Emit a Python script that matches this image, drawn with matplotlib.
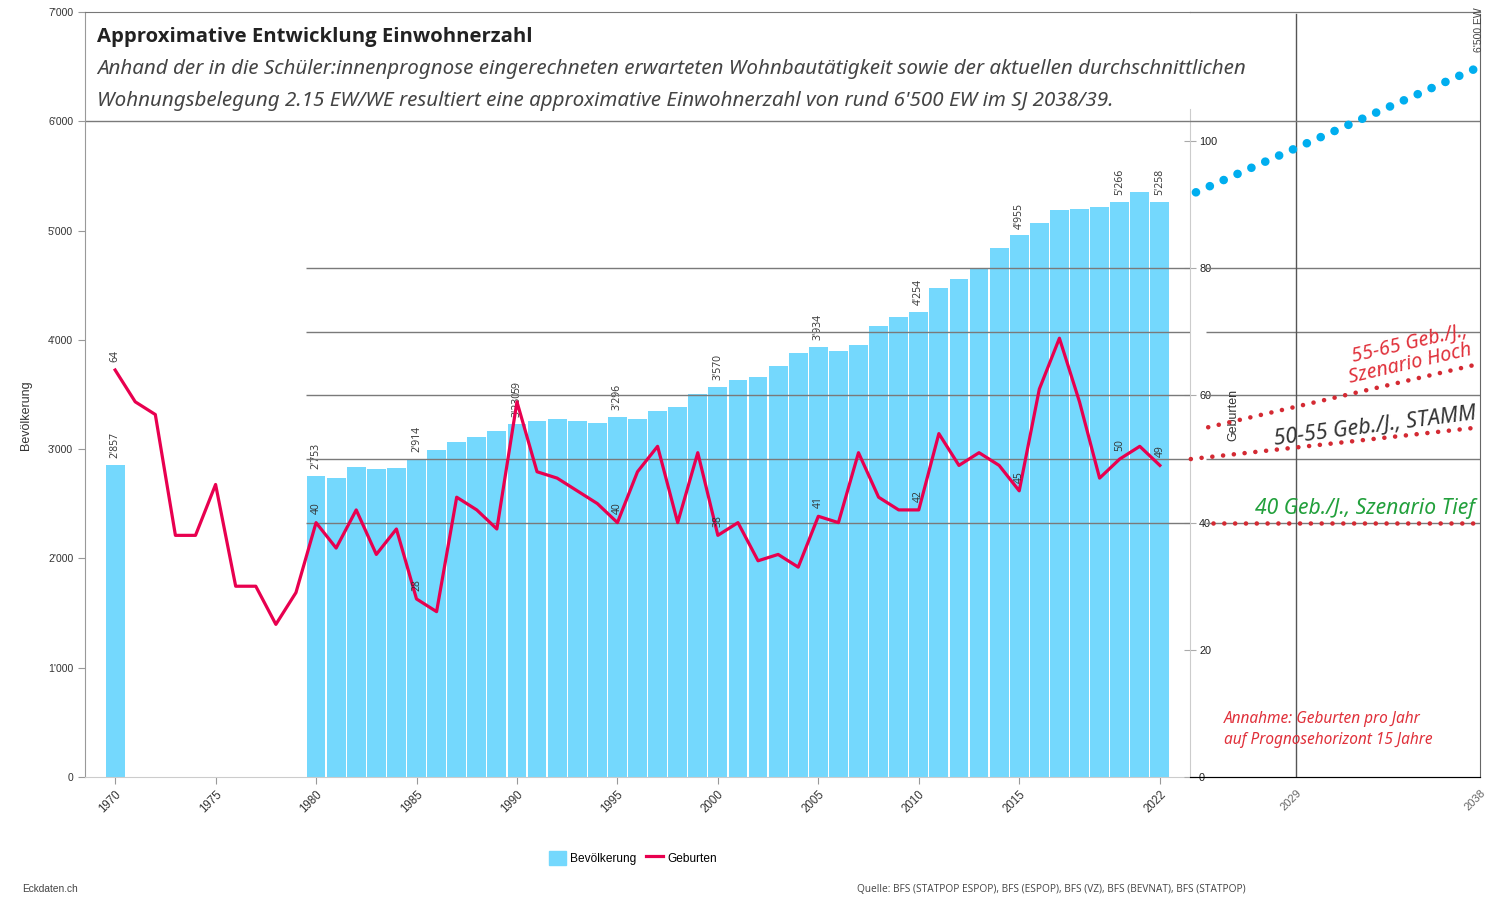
import matplotlib
matplotlib.use("Agg")
import matplotlib.pyplot as plt
from matplotlib.patches import Patch
from matplotlib.lines import Line2D

# --- data -------------------------------------------------------------
pop_years = [1970] + list(range(1980, 2023))
pop_values = [2857,
              2753, 2736, 2837, 2818, 2827, 2914, 2992, 3065, 3111, 3166,
              3230, 3257, 3276, 3257, 3239, 3296, 3276, 3349, 3386, 3505,
              3570, 3633, 3660, 3761, 3880, 3934, 3898, 3953, 4127, 4209,
              4254, 4474, 4557, 4657, 4840, 4955, 5069, 5188, 5197, 5216,
              5266, 5353, 5258]

birth_years = list(range(1970, 2023))
birth_values = [64, 59, 57, 38, 38, 46, 30, 30, 24, 29,
                40, 36, 42, 35, 39, 28, 26, 44, 42, 39,
                59, 48, 47, 45, 43, 40, 48, 52, 40, 51,
                38, 40, 34, 35, 33, 41, 40, 51, 44, 42,
                42, 54, 49, 51, 49, 45, 61, 69, 59, 47,
                50, 52, 49]

label_years = [1970, 1980, 1985, 1990, 1995, 2000, 2005, 2010, 2015, 2020, 2022]
xtick_years = [1970, 1975, 1980, 1985, 1990, 1995, 2000, 2005, 2010, 2015, 2022]
pop_ticks = [0, 1000, 2000, 3000, 4000, 5000, 6000, 7000]
birth_ticks = [0, 20, 40, 60, 80, 100]
birth_grid = [40, 50, 60, 70, 80]

# forecast (2023 - 2038)
fc_pop_years = [2024.1, 2038]
fc_pop = [5350, 6500]
hoch_years, hoch = [2024.7, 2038], [55, 65]
stamm_years, stamm = [2023.85, 2038], [50, 55]
tief_years, tief = [2024.95, 2038], [40, 40]
fc_ticks = [2029, 2038]

BAR = "#74d8fd"
LINE = "#e8004f"
DOTRED = "#d42a33"
BLUE = "#00aeef"
GRID = "#7a7a7a"
ITAL = "Noto Sans"

plt.rcParams["font.family"] = ["Open Sans", "DejaVu Sans"]


def fmt(v):
    return f"{v:,}".replace(",", "'")


fig = plt.figure(figsize=(14.97, 8.99), dpi=100)
W, H = 1497, 899
L, R, B, T = 85, 1190, 777, 12
XR = 1480

ax = fig.add_axes([L / W, 1 - B / H, (R - L) / W, (B - T) / H])
ax2 = ax.twinx()
axr = fig.add_axes([R / W, 1 - B / H, (XR - R) / W, (B - T) / H])
axr_p = axr.twinx()

ax.set_xlim(1968.5, 2023.5)
ax.set_ylim(0, 7000)
ymax_b = 120.3
ax2.set_ylim(0, ymax_b)
axr.set_xlim(2023.81, 2038)
axr.set_ylim(0, ymax_b)
axr_p.set_ylim(0, 7000)

# bars
ax.bar(pop_years, pop_values, width=0.94, color=BAR, zorder=2)
for y, v in zip(pop_years, pop_values):
    if y in label_years:
        ax.annotate(fmt(v), (y, v), xytext=(0, 5), textcoords="offset points",
                    rotation=90, ha="center", va="bottom", fontsize=7.5,
                    color="#333333", zorder=5)

# births line
ax2.plot(birth_years, birth_values, color=LINE, lw=2.3, zorder=4)
for y, v in zip(birth_years, birth_values):
    if y in label_years:
        ax2.annotate(str(v), (y, v), xytext=(0, 6), textcoords="offset points",
                     rotation=90, ha="center", va="bottom", fontsize=7.5,
                     color="#333333", zorder=5)

# grid lines
ax.axhline(6000, color=GRID, lw=1, zorder=1)
ax2.hlines(birth_grid, 1979.5, 2023.5, color=GRID, lw=1, zorder=3)
axr.hlines(birth_grid, 2024.6, 2038, color=GRID, lw=1, zorder=1)
axr_p.axhline(6000, color=GRID, lw=1, zorder=1)
axr.axvline(2029, color="#555555", lw=1, ymax=(B - 14) / (B - T))

# left axis styling
ax.set_xticks(xtick_years)
ax.set_xticklabels([str(y) for y in xtick_years], rotation=45, ha="right",
                   va="top", rotation_mode="anchor", fontsize=8.3,
                   family="Liberation Sans", color="#222222")
ax.set_yticks(pop_ticks)
ax.set_yticklabels([fmt(v) for v in pop_ticks], fontsize=7.5,
                   family="Liberation Sans", color="#333333")
ax.tick_params(axis="both", colors="#999999", length=5, labelcolor="#333333")
ax.set_ylabel("Bevölkerung", fontsize=9, family="Liberation Sans",
              color="#333333")
ax.yaxis.set_label_coords(-0.048, (B - 415) / (B - T))
ax.spines["right"].set_visible(False)
ax.spines["left"].set_color("#999999")
ax.spines["bottom"].set_color("#cccccc")
ax.spines["top"].set_color("#777777")

# births axis
ax2.set_yticks(birth_ticks)
ax2.set_yticklabels([str(v) for v in birth_ticks], fontsize=7.8,
                    family="Liberation Sans", color="#222222")
ax2.tick_params(axis="y", direction="inout", length=9, colors="#aaaaaa",
                labelcolor="#222222", pad=2)
for s in ["left", "top", "bottom"]:
    ax2.spines[s].set_visible(False)
ax2.spines["right"].set_color("#cccccc")
ax2.spines["right"].set_bounds(0, 105)

# right forecast panel
axr.set_xticks(fc_ticks)
axr.set_xticklabels([str(y) for y in fc_ticks], rotation=45, ha="right",
                    va="top", rotation_mode="anchor", fontsize=8,
                    family="Liberation Sans", color="#666666")
axr.tick_params(axis="x", length=0, pad=8)
axr.set_yticks([])
axr_p.set_yticks([])
axr.patch.set_visible(False)
for a in (axr, axr_p):
    a.spines["left"].set_visible(False)
axr.spines["right"].set_visible(False)
axr_p.spines["right"].set_color("#666666")
axr_p.spines["right"].set_bounds(0, 7000 * (B - 14) / (B - T))
axr_p.spines["top"].set_color("#777777")
axr.spines["top"].set_color("#777777")
axr.spines["bottom"].set_color("#555555")

axr_p.plot(fc_pop_years, fc_pop, color=BLUE, lw=6.2, ls=(0, (0.01, 1.75)),
           dash_capstyle="round", clip_on=False, zorder=5)
for xs, ys in [(hoch_years, hoch), (stamm_years, stamm), (tief_years, tief)]:
    axr.plot(xs, ys, color=DOTRED, lw=3.3, ls=(0, (0.01, 2.35)),
             dash_capstyle="round", clip_on=False, zorder=5)

axr.text(2037.66, 66.4, "55-65 Geb./J.,\nSzenario Hoch", color="#e0303a",
         style="italic", family=ITAL, fontsize=14.3, rotation=13,
         rotation_mode="anchor", ha="right", va="baseline", linespacing=1.0,
         zorder=6)
axr.text(2037.85, 56.4, "50-55 Geb./J., STAMM", color="#333333",
         style="italic", family=ITAL, fontsize=15.6, rotation=7.3,
         rotation_mode="anchor", ha="right", va="baseline", zorder=6)
axr.text(2037.75, 41.4, "40 Geb./J., Szenario Tief", color="#22a03c",
         style="italic", family=ITAL, fontsize=15.2, ha="right", va="baseline",
         zorder=6)
axr.text(2025.47, 5.2, "Annahme: Geburten pro Jahr\nauf Prognosehorizont 15 Jahre",
         color="#e0303a", style="italic", family=ITAL, fontsize=11.1,
         ha="left", va="baseline", linespacing=1.45, zorder=6)
axr.text(2025.91, 56.9, "Geburten", rotation=90, ha="center", va="center",
         fontsize=9, family="Liberation Sans", color="#333333")

# titles and notes
fig.text(97 / W, 1 - 37 / H, "Approximative Entwicklung Einwohnerzahl",
         fontsize=14.6, weight="bold", color="#222222", va="center")
fig.text(97 / W, 1 - 69 / H,
         "Anhand der in die Schüler:innenprognose eingerechneten erwarteten "
         "Wohnbautätigkeit sowie der aktuellen durchschnittlichen",
         fontsize=14.8, style="italic", family=ITAL, color="#444444",
         va="center")
fig.text(97 / W, 1 - 101 / H,
         "Wohnungsbelegung 2.15 EW/WE resultiert eine approximative "
         "Einwohnerzahl von rund 6'500 EW im SJ 2038/39.",
         fontsize=14.8, style="italic", family=ITAL, color="#444444",
         va="center")
fig.text(1479 / W, 1 - 30 / H, "6'500 EW", rotation=90, ha="center",
         va="center", fontsize=7.5, family="Liberation Sans", color="#444444")

handles = [Patch(color=BAR), Line2D([0], [0], color=LINE, lw=2.3)]
fig.legend(handles, ["Bevölkerung", "Geburten"], loc="center",
           bbox_to_anchor=(633 / W, 1 - 858 / H), ncol=2, frameon=False,
           handlelength=1.4, handleheight=1.5, handletextpad=0.4,
           columnspacing=0.8, prop={"family": "Liberation Sans", "size": 8.6})

fig.text(22 / W, 1 - 889 / H, "Eckdaten.ch", fontsize=7.3, color="#444444",
         family="Liberation Sans", va="center")
fig.text(857 / W, 1 - 889 / H,
         "Quelle: BFS (STATPOP ESPOP), BFS (ESPOP), BFS (VZ), BFS (BEVNAT), "
         "BFS (STATPOP)", fontsize=7.3, color="#444444", va="center")

fig.savefig("out.png", dpi=100)
